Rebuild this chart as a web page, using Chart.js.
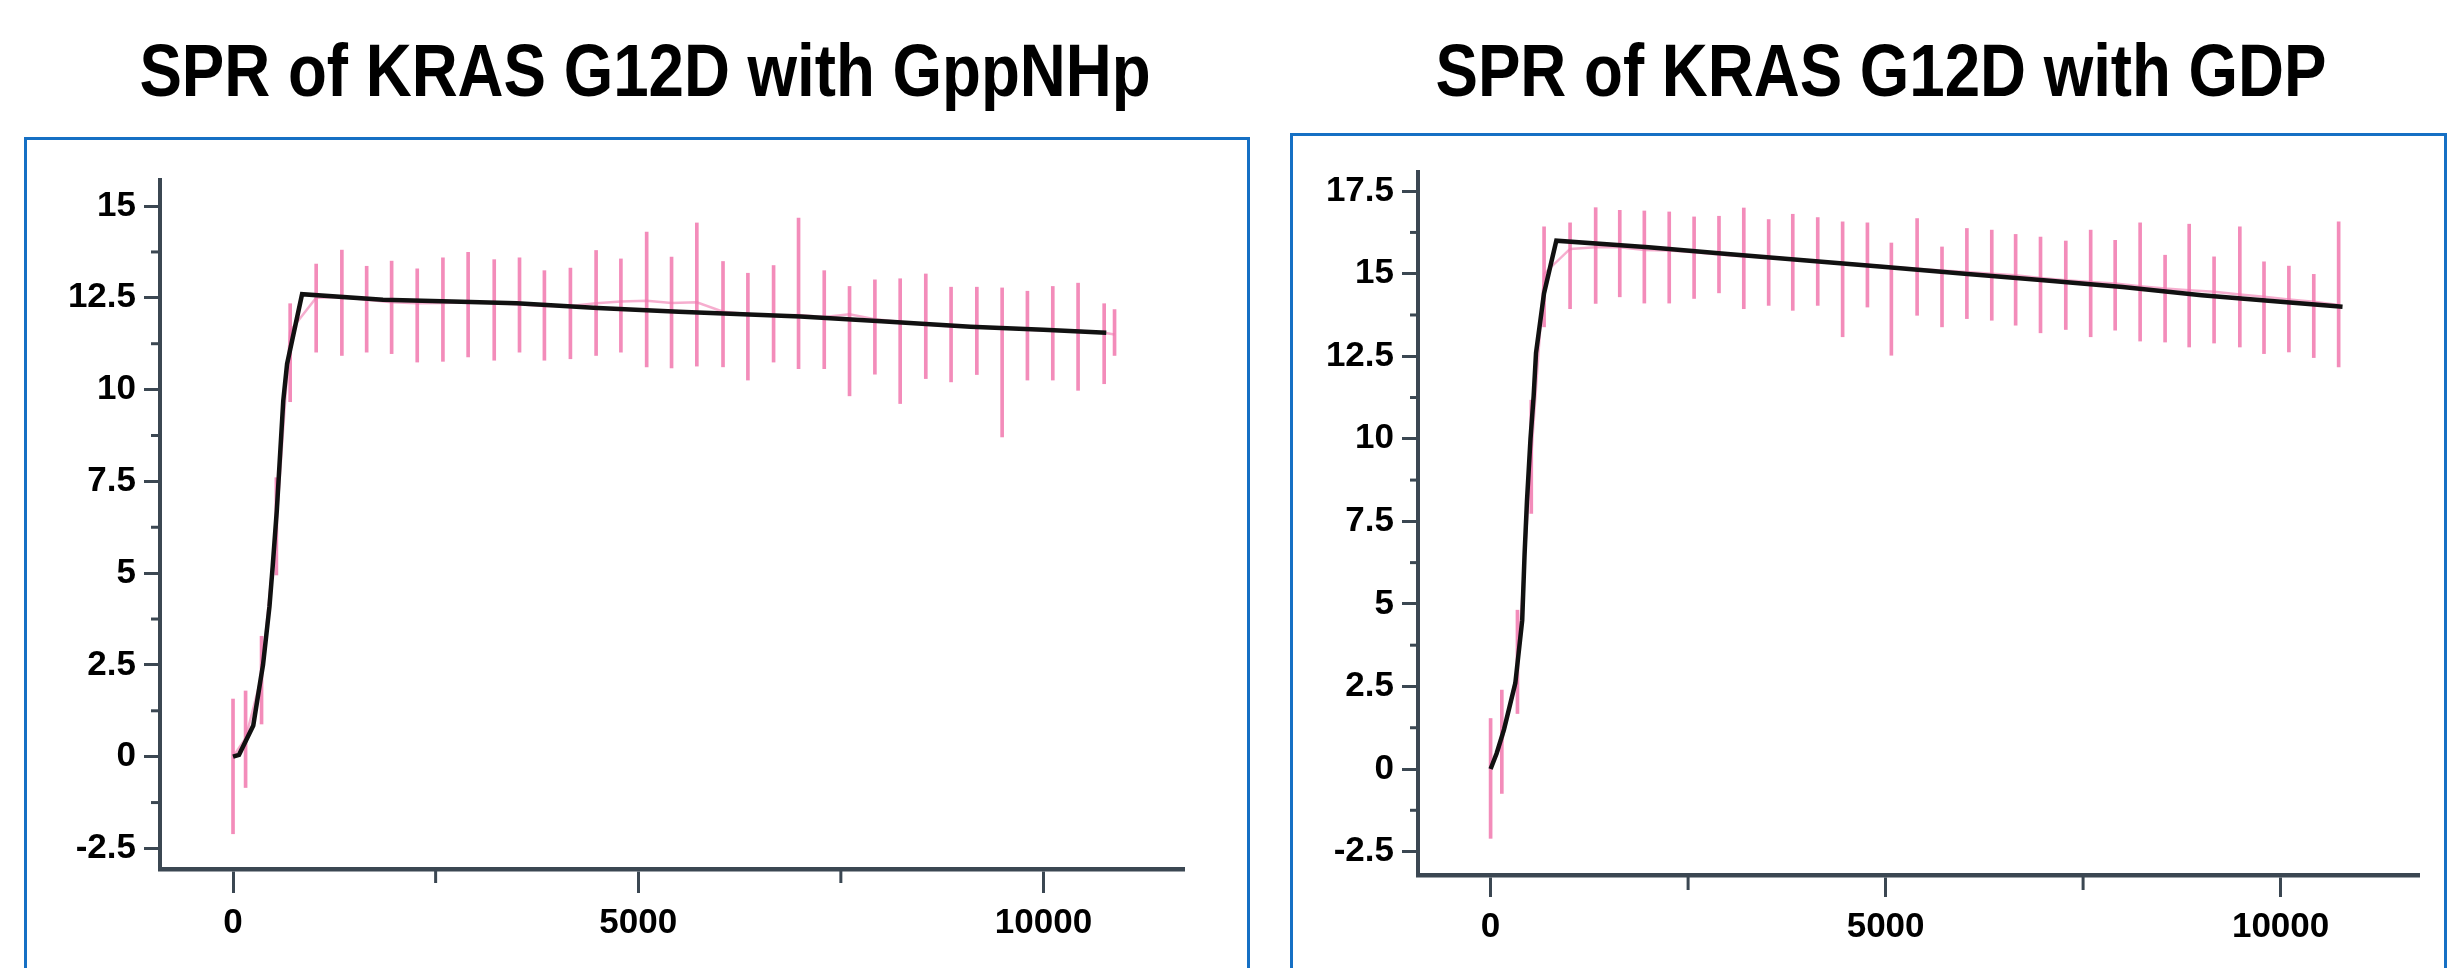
<!DOCTYPE html>
<html>
<head>
<meta charset="utf-8">
<script src="https://cdn.jsdelivr.net/npm/chart.js@4.4.1/dist/chart.umd.min.js"></script>
<style>
  body { margin: 0; background: #fff; width: 2451px; height: 968px; overflow: hidden; position: relative; }
  .titre { position: absolute; top: 34px; font-family: 'Liberation Sans', Arial, sans-serif; font-weight: bold; font-size: 74px; line-height: 74px; color: #000; white-space: nowrap; transform: translateX(-50%) scaleX(0.86); }
  .cadre { position: absolute; border: 3px solid #1670c4; box-sizing: border-box; }
  canvas { position: absolute; }
</style>
</head>
<body>
<div class="titre" style="left:645px">SPR of KRAS G12D with GppNHp</div>
<div class="titre" style="left:1881px">SPR of KRAS G12D with GDP</div>
<div class="cadre" style="left:24px; top:137px; width:1226px; height:900px"></div>
<div class="cadre" style="left:1290px; top:133px; width:1157px; height:900px"></div>
<canvas id="chartGpp" width="1216" height="827" style="left:30px; top:141px"></canvas>
<canvas id="chartGdp" width="1150" height="831" style="left:1294px; top:137px"></canvas>
<script>
// GppNHp : ajustement (noir), points mesures (rose) et dispersion
const gppFitX = [0, 74, 250, 340, 370, 450, 490, 540, 620, 667, 852, 1850, 2700, 3500, 4500, 5500, 7000, 8000, 9100, 10000, 10775];
const gppFitY = [0, 0.05, 0.85, 2.1, 2.5, 4.1, 5.2, 6.7, 9.7, 10.7, 12.6, 12.45, 12.4, 12.35, 12.22, 12.12, 11.99, 11.86, 11.71, 11.63, 11.55];
const gppBarX = [0, 155, 352, 535, 705, 1026, 1343, 1649, 1957, 2273, 2590, 2901, 3223, 3535, 3842, 4163, 4480, 4786, 5104, 5411, 5723, 6046, 6353, 6670, 6978, 7295, 7607, 7920, 8232, 8548, 8860, 9178, 9490, 9802, 10115, 10427, 10749, 10877];
const gppBarLow = [-2.1, -0.84, 0.89, 4.95, 9.67, 11.02, 10.93, 11.02, 10.98, 10.75, 10.77, 10.89, 10.8, 11.02, 10.8, 10.84, 10.93, 11.02, 10.62, 10.59, 10.64, 10.62, 10.26, 10.75, 10.57, 10.57, 9.83, 10.42, 9.62, 10.3, 10.21, 10.41, 8.71, 10.26, 10.26, 9.98, 10.16, 10.93];
const gppBarHigh = [1.57, 1.79, 3.28, 7.6, 12.34, 13.42, 13.8, 13.36, 13.5, 13.29, 13.59, 13.74, 13.54, 13.59, 13.24, 13.31, 13.79, 13.56, 14.29, 13.61, 14.54, 13.49, 13.17, 13.38, 14.67, 13.24, 12.81, 12.99, 13.02, 13.15, 12.79, 12.79, 12.77, 12.68, 12.81, 12.9, 12.34, 12.18];
const gppTraceY = [0, 0.5, 2.2, 6.3, 11.6, 12.5, 12.52, 12.45, 12.38, 12.35, 12.36, 12.38, 12.36, 12.32, 12.28, 12.28, 12.35, 12.4, 12.42, 12.36, 12.38, 12.12, 12.06, 12.02, 12.03, 11.98, 12.05, 11.92, 11.85, 11.77, 11.72, 11.72, 11.68, 11.63, 11.6, 11.6, 11.55, 11.5];

// GDP
const gdpFitX = [0, 76, 170, 313, 400, 430, 460, 505, 545, 575, 676, 832, 2000, 3000, 4000, 5000, 6000, 7000, 8000, 9000, 10000, 10784];
const gdpFitY = [0, 0.47, 1.2, 2.6, 4.5, 6.5, 8.1, 10.0, 11.3, 12.6, 14.4, 16.0, 15.8, 15.6, 15.4, 15.2, 15.0, 14.8, 14.6, 14.35, 14.15, 14.0];
const gdpBarX = [0, 142, 340, 515, 677, 1006, 1330, 1635, 1946, 2261, 2576, 2891, 3205, 3520, 3825, 4141, 4456, 4770, 5073, 5399, 5714, 6029, 6344, 6646, 6961, 7281, 7596, 7906, 8222, 8538, 8843, 9158, 9484, 9790, 10105, 10420, 10735];
const gdpBarLow = [-2.1, -0.74, 1.68, 7.74, 13.39, 13.94, 14.1, 14.3, 14.11, 14.11, 14.25, 14.42, 13.94, 14.04, 13.89, 14.04, 13.09, 13.99, 12.53, 13.74, 13.39, 13.64, 13.59, 13.44, 13.21, 13.31, 13.09, 13.29, 12.96, 12.93, 12.78, 12.9, 12.78, 12.58, 12.63, 12.46, 12.18];
const gdpBarHigh = [1.53, 2.39, 4.81, 11.17, 16.42, 16.54, 17.0, 16.92, 16.9, 16.87, 16.72, 16.74, 16.99, 16.64, 16.8, 16.7, 16.57, 16.54, 15.93, 16.67, 15.81, 16.37, 16.32, 16.19, 16.11, 15.99, 16.32, 16.01, 16.54, 15.56, 16.5, 15.51, 16.42, 15.36, 15.23, 14.98, 16.57];
const gdpTraceY = [0, 0.8, 3.0, 9.5, 15.0, 15.75, 15.8, 15.8, 15.72, 15.7, 15.65, 15.58, 15.52, 15.5, 15.45, 15.38, 15.32, 15.27, 15.2, 15.15, 15.1, 15.05, 15.0, 14.95, 14.87, 14.8, 14.75, 14.7, 14.62, 14.55, 14.5, 14.45, 14.37, 14.3, 14.22, 14.15, 14.05];

// graduations
const xTicks = [0, 5000, 10000];
const xMinor = [2500, 7500];
const yTicksGpp = [-2.5, 0, 2.5, 5, 7.5, 10, 12.5, 15];
const yMinorGpp = [-1.25, 1.25, 3.75, 6.25, 8.75, 11.25, 13.75];
const yTicksGdp = [-2.5, 0, 2.5, 5, 7.5, 10, 12.5, 15, 17.5];
const yMinorGdp = [-1.25, 1.25, 3.75, 6.25, 8.75, 11.25, 13.75, 16.25];

const axisColor = '#3b4752';
const pink = 'rgba(238, 96, 160, 0.72)';

// petites graduations dessinees a partir des echelles
const minorTicks = {
    id: 'minorTicks',
    afterDraw(chart, args, o) {
        const ctx = chart.ctx;
        const xs = chart.scales.x;
        const ys = chart.scales.y;
        ctx.save();
        ctx.strokeStyle = axisColor;
        ctx.lineWidth = 3;
        o.y.forEach(v => {
            const p = ys.getPixelForValue(v);
            ctx.beginPath();
            ctx.moveTo(ys.right - o.yLen, p);
            ctx.lineTo(ys.right, p);
            ctx.stroke();
        });
        o.x.forEach(v => {
            const p = xs.getPixelForValue(v);
            ctx.beginPath();
            ctx.moveTo(p, xs.top);
            ctx.lineTo(p, xs.top + o.xLen);
            ctx.stroke();
        });
        ctx.restore();
    }
};

function genererGraphique(id, p) {
    const ctx = document.getElementById(id).getContext('2d');
    const tickFont = { family: "'Liberation Sans', Arial, sans-serif", weight: 'bold', size: 35 };
    new Chart(ctx, {
        type: 'line',
        data: {
            datasets: [
                {
                    type: 'line',
                    label: 'Fit',
                    data: p.fitX.map((x, i) => ({ x: x, y: p.fitY[i] })),
                    borderColor: '#111111',
                    borderWidth: 4.5,
                    pointRadius: 0,
                    tension: 0,
                    order: 0,
                },
                {
                    type: 'line',
                    label: 'Mesure',
                    data: p.barX.map((x, i) => ({ x: x, y: p.traceY[i] })),
                    borderColor: 'rgba(240, 120, 175, 0.6)',
                    borderWidth: 2.5,
                    pointRadius: 0,
                    tension: 0,
                    order: 1,
                },
                {
                    type: 'bar',
                    label: 'Dispersion',
                    data: p.barX.map((x, i) => ({ x: x, y: [p.barLow[i], p.barHigh[i]] })),
                    backgroundColor: pink,
                    borderWidth: 0,
                    barThickness: 3,
                    order: 2,
                },
            ],
        },
        options: {
            responsive: false,
            animation: false,
            layout: { padding: { top: p.padTop, right: p.padRight, left: 0, bottom: 0 } },
            plugins: {
                legend: { display: false },
                tooltip: { enabled: false },
                minorTicks: { x: xMinor, y: p.yMinor, xLen: p.xMinorLen, yLen: p.yMinorLen },
            },
            scales: {
                x: {
                    type: 'linear',
                    offset: false,
                    min: p.xMin,
                    max: p.xMax,
                    afterBuildTicks: s => { s.ticks = xTicks.map(v => ({ value: v })); },
                    afterFit: s => { s.height = p.xHeight; },
                    border: { display: true, color: axisColor, width: 4.5 },
                    grid: { offset: false, drawOnChartArea: false, drawTicks: true, tickLength: p.xTickLen, tickWidth: 3, tickColor: axisColor },
                    ticks: { color: '#000', font: tickFont, padding: 9, maxRotation: 0, callback: v => String(v) },
                },
                y: {
                    type: 'linear',
                    min: p.yMin,
                    max: p.yMax,
                    afterBuildTicks: s => { s.ticks = p.yTicks.map(v => ({ value: v })); },
                    afterFit: s => { s.width = p.yWidth; },
                    border: { display: true, color: axisColor, width: 4 },
                    grid: { drawOnChartArea: false, drawTicks: true, tickLength: 16, tickWidth: 3, tickColor: axisColor },
                    ticks: { color: '#000', font: tickFont, padding: 8, callback: v => String(v) },
                },
            },
        },
        plugins: [minorTicks],
    });
}

genererGraphique('chartGpp', {
    fitX: gppFitX, fitY: gppFitY, barX: gppBarX, barLow: gppBarLow, barHigh: gppBarHigh, traceY: gppTraceY,
    yTicks: yTicksGpp, yMinor: yMinorGpp,
    xMin: -901, xMax: 11734, yMin: -3.06, yMax: 15.71,
    yWidth: 130, xHeight: 99, padTop: 39, padRight: 62,
    xTickLen: 24, xMinorLen: 14, yMinorLen: 9,
});

genererGraphique('chartGdp', {
    fitX: gdpFitX, fitY: gdpFitY, barX: gdpBarX, barLow: gdpBarLow, barHigh: gdpBarHigh, traceY: gdpTraceY,
    yTicks: yTicksGdp, yMinor: yMinorGdp,
    xMin: -919, xMax: 11752, yMin: -3.21, yMax: 18.08,
    yWidth: 124, xHeight: 93, padTop: 35, padRight: 25,
    xTickLen: 22, xMinorLen: 15, yMinorLen: 8,
});
</script>
</body>
</html>
